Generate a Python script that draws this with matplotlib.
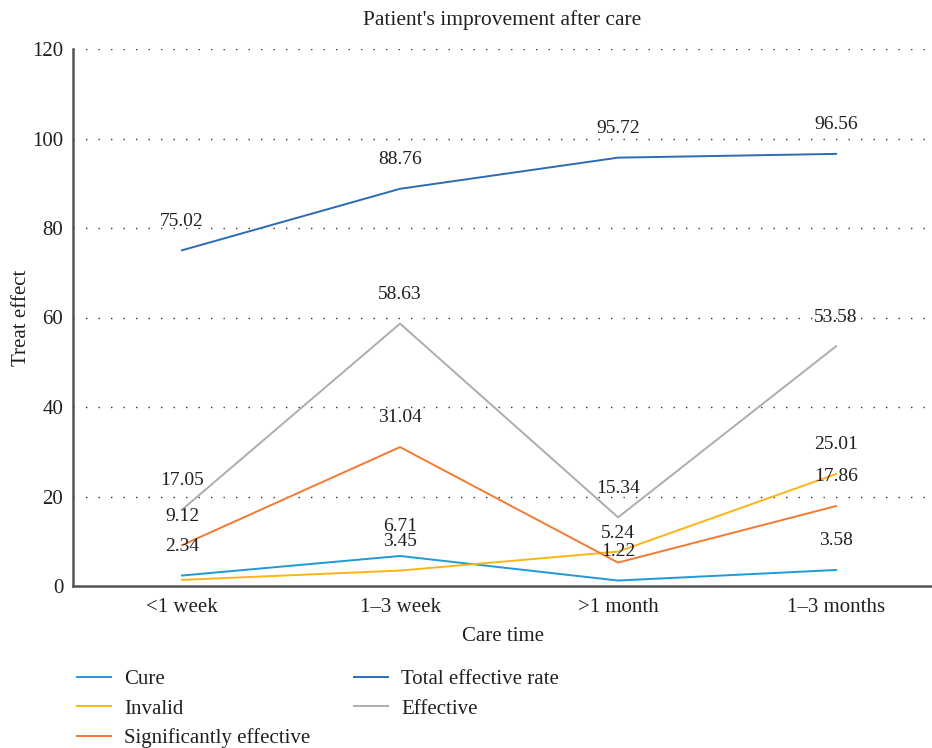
import matplotlib.pyplot as plt

plt.rcParams['font.family'] = ['Liberation Serif', 'DejaVu Serif']

care_times = ["<1 week", "1\u20133 week", ">1 month", "1\u20133 months"]

cure = [2.34, 6.71, 1.22, 3.58]
invalid = [1.36, 3.45, 7.68, 25.01]
significant = [9.12, 31.04, 5.24, 17.86]
total_rate = [75.02, 88.76, 95.72, 96.56]
effective = [17.05, 58.63, 15.34, 53.58]

# value labels printed next to each point (None = no label shown)
cure_labels = [2.34, 6.71, 1.22, 3.58]
invalid_labels = [None, 3.45, None, 25.01]
significant_labels = [9.12, 31.04, 5.24, 17.86]
total_labels = [75.02, 88.76, 95.72, 96.56]
effective_labels = [17.05, 58.63, 15.34, 53.58]

series = [
    ("Cure", cure, cure_labels, "#1f9ad6"),
    ("Invalid", invalid, invalid_labels, "#fdb515"),
    ("Significantly effective", significant, significant_labels, "#f47a33"),
    ("Total effective rate", total_rate, total_labels, "#2b6cb5"),
    ("Effective", effective, effective_labels, "#adadad"),
]

text_color = "#231f20"

fig = plt.figure(figsize=(9.32, 7.48), dpi=100)
ax = fig.add_axes([73 / 932, 1 - 586 / 748, (932 - 73) / 932, (586 - 49) / 748])

x = list(range(len(care_times)))
for name, vals, labels, color in series:
    ax.plot(x, vals, color=color, lw=1.4, label=name)
    for xi, v, lab in zip(x, vals, labels):
        if lab is None:
            continue
        ax.annotate(f"{lab:.2f}", (xi, v), xytext=(0, 21), textcoords="offset points",
                    ha="center", va="center", fontsize=14, color=text_color)

ax.set_xlim(-0.5, 3.44)
ax.set_ylim(0, 120)
ax.set_yticks(range(0, 121, 20))
ax.set_xticks(x)
ax.set_xticklabels(care_times)
ax.tick_params(length=0, labelsize=15, colors=text_color, pad=9)
ax.tick_params(axis="y", pad=7)

for yv in range(20, 121, 20):
    ax.axhline(yv, color="#333333", lw=1.0, linestyle=(0, (1, 8)), zorder=0)

for side in ("top", "right"):
    ax.spines[side].set_visible(False)
for side in ("left", "bottom"):
    ax.spines[side].set_color("#555555")
    ax.spines[side].set_linewidth(1.8)

ax.set_xlabel("Care time", fontsize=15, color=text_color, labelpad=7)
ax.set_ylabel("Treat effect", fontsize=15, color=text_color, labelpad=1)
ax.set_title("Patient's improvement after care", fontsize=15.5, color=text_color, pad=17)

leg = fig.legend(loc="upper left", bbox_to_anchor=(69 / 932, 1 - 661 / 748), ncol=2,
                 frameon=False, fontsize=15, handlelength=1.6, handletextpad=0.65,
                 columnspacing=2.1, labelspacing=0.48, borderaxespad=0)
for t in leg.get_texts():
    t.set_color(text_color)

fig.savefig("out.png", dpi=100)
